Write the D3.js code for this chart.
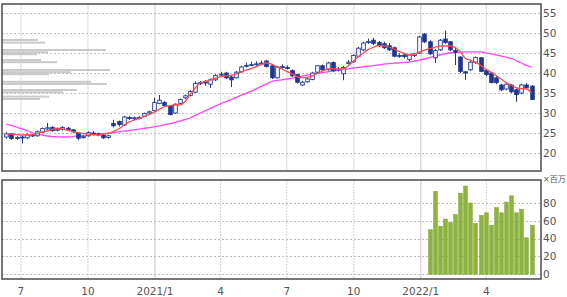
<!DOCTYPE html>
<html><head><meta charset="utf-8">
<script src="https://cdn.jsdelivr.net/npm/d3@7"></script>
<style>body{margin:0;background:#fff}svg{display:block;font-family:"DejaVu Sans",Verdana,sans-serif}</style>
</head><body><svg id="c" width="567" height="297"></svg>
<script>
// ---------- data ----------
const firstWeek = "2020-06-11";   // first weekly candle
const opens  = [24.0,24.8,23.7,24.0,23.8,24.5,24.3,25.2,26.0,26.4,25.7,25.9,26.2,25.8,25.0,23.9,24.3,25.0,24.8,24.5,23.9,27.4,27.9,27.0,28.9,28.6,28.7,29.2,30.0,30.6,32.4,32.6,31.7,30.0,32.4,33.8,34.4,35.2,37.4,37.8,37.2,38.3,39.5,40.0,39.0,38.8,40.3,41.7,42.0,42.1,42.3,43.0,41.8,38.8,41.4,41.4,40.6,39.6,37.0,37.8,38.4,40.2,41.8,40.8,42.6,40.8,39.8,42.4,42.8,44.2,45.8,47.6,48.2,47.6,47.3,46.8,46.3,44.2,44.5,43.4,44.4,45.0,49.7,47.8,43.8,45.8,48.5,47.8,45.6,44.0,40.3,40.8,42.6,43.8,40.7,40.0,38.8,37.0,36.0,37.0,35.8,35.0,37.0,36.7];
const highs  = [25.2,25.0,24.2,24.3,24.9,24.8,25.6,26.4,27.5,26.7,26.3,26.7,26.5,26.0,25.2,24.4,25.4,25.5,25.1,24.8,24.6,28.3,28.1,29.3,29.2,29.1,29.2,30.1,30.6,33.8,34.5,33.0,31.9,32.4,33.6,34.6,35.7,37.9,38.0,38.2,38.6,39.7,40.3,40.3,39.3,40.5,41.8,42.6,42.8,42.9,43.1,43.3,42.0,41.8,42.2,41.9,40.9,39.8,38.0,38.8,40.3,42.0,42.1,42.8,42.9,41.5,41.8,43.2,44.7,46.5,47.8,48.6,48.8,48.0,47.8,47.5,46.6,44.9,44.8,44.8,45.1,49.3,50.0,48.2,46.0,48.5,50.6,48.0,46.3,44.2,40.5,43.0,44.1,44.0,41.0,40.2,39.3,37.3,37.5,37.3,36.0,37.3,37.5,37.0];
const lows   = [23.6,23.3,23.3,22.4,23.5,24.0,24.1,25.0,25.8,25.3,25.4,25.6,25.6,25.0,23.2,23.6,24.1,24.4,24.2,23.5,23.6,26.4,26.6,26.8,28.3,28.3,28.4,29.0,29.8,30.4,32.2,31.6,29.4,29.8,32.2,33.5,34.2,35.0,37.0,36.8,36.3,38.0,39.2,38.5,36.5,38.6,40.1,41.4,41.7,41.8,42.0,41.4,38.5,38.6,41.1,40.9,39.0,37.4,36.8,37.6,38.2,40.0,40.5,40.6,40.3,40.4,38.2,42.1,42.6,44.0,45.5,47.3,47.0,46.5,46.0,45.5,43.9,43.8,43.7,43.0,44.0,44.8,47.5,44.5,42.5,45.5,47.3,45.5,42.0,40.0,38.3,40.5,42.3,40.2,39.2,37.4,37.2,35.5,35.7,35.0,32.8,34.7,36.2,33.2];
const closes = [24.8,23.6,23.9,23.8,24.6,24.3,25.3,26.1,26.3,25.6,26.0,26.4,25.9,25.3,23.7,24.1,25.1,24.8,24.5,23.8,24.3,26.8,27.1,29.0,28.6,28.8,28.9,29.9,30.3,32.6,33.2,31.9,29.6,32.2,33.4,34.3,35.4,37.4,37.6,37.5,38.3,39.4,39.7,38.8,38.3,40.2,41.5,41.9,42.1,42.3,42.5,41.6,38.8,41.5,41.6,41.2,39.3,37.7,37.7,38.5,40.0,41.8,40.8,42.5,40.6,41.0,41.4,42.7,44.4,46.2,47.5,47.9,47.4,46.8,46.3,45.8,44.2,44.4,44.1,44.5,44.8,49.0,47.8,44.8,45.6,48.2,47.6,45.8,45.2,40.4,40.0,42.7,43.9,40.4,39.6,37.6,37.6,35.8,37.2,35.3,34.6,37.0,36.3,33.4];
const maShort = [24.8,24.7,24.6,24.5,24.5,24.5,24.8,25.2,25.5,25.9,26.2,26.0,25.7,25.4,25.1,24.9,24.8,24.6,24.5,24.7,24.9,25.4,26.0,26.9,27.7,28.2,28.6,29.1,29.6,30.2,30.9,31.6,31.8,32.0,32.0,32.8,34.6,36.2,37.5,37.9,38.3,38.7,39.1,39.3,39.4,39.7,40.2,40.7,41.1,41.6,42.1,42.5,42.2,41.6,41.0,40.4,39.8,39.1,38.8,38.9,39.3,39.9,40.5,41.0,41.1,40.9,41.0,41.7,42.9,44.0,45.0,45.9,46.4,46.9,46.8,46.5,46.0,45.4,44.9,44.6,44.8,45.2,45.7,46.1,46.4,46.7,46.75,46.75,46.4,45.3,43.7,43.2,42.7,41.9,41.0,40.2,39.4,38.5,37.6,37.0,36.3,36.1,36.0,35.1];
const maLong  = [27.2,26.85,26.5,26.1,25.6,25.1,24.8,24.5,24.25,24.1,24.05,24.0,24.0,24.1,24.3,24.4,24.5,24.6,24.75,24.85,24.95,25.1,25.3,25.45,25.6,25.8,25.95,26.15,26.35,26.55,26.8,27.05,27.3,27.6,27.95,28.35,28.75,29.35,29.95,30.55,31.15,31.75,32.3,32.8,33.3,33.85,34.4,34.9,35.45,36.05,36.65,37.25,37.85,38.15,38.3,38.5,38.7,38.95,39.2,39.45,39.7,39.9,40.1,40.3,40.5,40.7,40.9,41.05,41.25,41.4,41.55,41.7,41.85,42.0,42.2,42.35,42.45,42.55,42.65,42.75,42.95,43.2,43.5,43.85,44.2,44.5,44.8,45.0,45.1,45.2,45.3,45.3,45.3,45.3,45.05,44.8,44.55,44.25,43.95,43.65,43.1,42.5,41.9,41.4];
const volumeFirstWeek = 83;   // weekly volume (millions) shown only from this candle
const volumes = [50,93,54,62,58,67,91,99,80,57,66,69,55,75,69,81,88,69,73,41,55];
const profilePrices  = [48.25,47.6,45.75,45.2,44.7,43.25,42.7,40.75,40.2,39.7,37.8,37.25,35.75,35.2,34.1,33.5];
const profileVolumes = [36,43,104,46,35,39,55,108,69,47,89,105,75,61,47,38];
const priceTicks = [20,25,30,35,40,45,50,55];
const volumeTicks = [0,20,40,60,80];
const monthTickDates  = ["2020-07-01","2020-10-01","2021-01-01","2021-04-01","2021-07-01","2021-10-01","2022-01-01","2022-04-01"];
const monthTickLabels = ["7","10","2021/1","4","7","10","2022/1","4"];

// ---------- layout ----------
const L = 2, R = 541;
const mainTop = 4, mainBot = 171, volTop = 180, volBot = 279;
const navy = "#1f3790", txt = "#555";

const svg = d3.select("#c");
svg.append("rect").attr("width",567).attr("height",297).attr("fill","#fff");

const parse = d3.timeParse("%Y-%m-%d");
const start = parse(firstWeek);
const dates = opens.map((_, i) => d3.timeDay.offset(start, 7 * i));
const x = d3.scaleTime().domain([parse("2020-06-05"), parse("2022-06-15")]).range([L, R]);
const y = d3.scaleLinear().domain([20, 55]).range([153, 13]);
const yv = d3.scaleLinear().domain([0, 80]).range([274.3, 203]);
const xp = d3.scaleLinear().domain([0, 100]).range([0, 100]);
const tickDates = monthTickDates.map(parse);

// clip paths
const defs = svg.append("defs");
defs.append("clipPath").attr("id","cm").append("rect").attr("x",L).attr("y",mainTop).attr("width",R-L).attr("height",mainBot-mainTop);
defs.append("clipPath").attr("id","cv").append("rect").attr("x",L).attr("y",volTop).attr("width",R-L).attr("height",volBot-volTop);

// ---------- main panel ----------
const gm = svg.append("g").attr("clip-path","url(#cm)");
gm.selectAll("line.vg").data(tickDates).join("line")
  .attr("x1", d => x(d)).attr("x2", d => x(d)).attr("y1", mainTop).attr("y2", mainBot)
  .attr("stroke", (d,i) => monthTickLabels[i].includes("/") ? "#d2d2d2" : "#e2e2e2").attr("stroke-width", 1.2);
gm.selectAll("line.hg").data(priceTicks).join("line")
  .attr("x1", L).attr("x2", R).attr("y1", d => Math.round(y(d))+0.5).attr("y2", d => Math.round(y(d))+0.5)
  .attr("stroke", "#bdbdbd").attr("stroke-dasharray", "2,2");

// volume-by-price profile
gm.selectAll("rect.pf").data(profilePrices).join("rect")
  .attr("x", L).attr("y", d => y(d) - 1)
  .attr("width", (d,i) => xp(profileVolumes[i])).attr("height", 2)
  .attr("fill", "#c4c4c4").attr("opacity", 0.9);

// moving averages
const line = d3.line().x((d,i) => x(dates[i])).y(d => y(d)).curve(d3.curveMonotoneX);
gm.append("path").datum(maLong).attr("d", line).attr("fill","none").attr("stroke","#ff44ff").attr("stroke-width",1.3);

// candles
const cw = 3.6;
const cg = gm.append("g");
dates.forEach((d, i) => {
  const cx = Math.round(x(d)) + 0.5;
  cg.append("line").attr("x1",cx).attr("x2",cx).attr("y1",y(highs[i])).attr("y2",y(lows[i]))
    .attr("stroke",navy).attr("stroke-width",1);
  const up = closes[i] >= opens[i];
  const top = y(Math.max(opens[i],closes[i])), bot = y(Math.min(opens[i],closes[i]));
  cg.append("rect").attr("x",cx-cw/2).attr("y",top).attr("width",cw).attr("height",Math.max(1,bot-top))
    .attr("fill", up ? "#fff" : navy).attr("stroke",navy).attr("stroke-width",0.9);
});
gm.append("path").datum(maShort).attr("d", line).attr("fill","none").attr("stroke","#ff4a4a").attr("stroke-width",1.3);

svg.append("rect").attr("x",L).attr("y",mainTop).attr("width",R-L).attr("height",mainBot-mainTop)
  .attr("fill","none").attr("stroke","#555").attr("stroke-width",1.6);

// right price axis
svg.selectAll("text.pt").data(priceTicks).join("text")
  .attr("x", 543).attr("y", d => y(d)).attr("dy","0.36em")
  .attr("font-size","10.5px").attr("fill",txt).text(d => d);

// ---------- volume panel ----------
const gv = svg.append("g").attr("clip-path","url(#cv)");
gv.selectAll("line.vg").data(tickDates).join("line")
  .attr("x1", d => x(d)).attr("x2", d => x(d)).attr("y1", volTop).attr("y2", volBot)
  .attr("stroke", (d,i) => monthTickLabels[i].includes("/") ? "#cfcfcf" : "#d8d8d8")
  .attr("stroke-dasharray", (d,i) => monthTickLabels[i].includes("/") ? null : "2,1")
  .attr("stroke-width", 1.2);
gv.selectAll("line.hg").data(volumeTicks).join("line")
  .attr("x1", L).attr("x2", R).attr("y1", d => Math.round(yv(d))+0.5).attr("y2", d => Math.round(yv(d))+0.5)
  .attr("stroke", "#bdbdbd").attr("stroke-dasharray", "2,2");
gv.selectAll("rect.vb").data(volumes).join("rect")
  .attr("x", (d,i) => Math.round(x(dates[volumeFirstWeek + i])) + 0.5 - 1.9)
  .attr("y", d => yv(d)).attr("width", 3.8).attr("height", d => yv(0) - yv(d))
  .attr("fill", "#8db43a").attr("stroke","#7ca22e").attr("stroke-width",0.5);

svg.append("rect").attr("x",L).attr("y",volTop).attr("width",R-L).attr("height",volBot-volTop)
  .attr("fill","none").attr("stroke","#555").attr("stroke-width",1.6);

svg.selectAll("text.vt").data(volumeTicks).join("text")
  .attr("x", 543).attr("y", d => yv(d)).attr("dy","0.36em")
  .attr("font-size","10.5px").attr("fill",txt).text(d => d);
svg.append("text").attr("x", 543).attr("y", 181.5).attr("font-size","8px").attr("fill",txt)
  .attr("font-family",'"DejaVu Sans","Noto Sans CJK JP",sans-serif').text("×百万");

// ---------- date axis ----------
svg.selectAll("text.xt").data(tickDates).join("text")
  .attr("x", d => x(d)).attr("y", 294.5).attr("text-anchor","middle")
  .attr("font-size","10.5px").attr("fill",txt).text((d,i) => monthTickLabels[i]);
</script></body></html>
